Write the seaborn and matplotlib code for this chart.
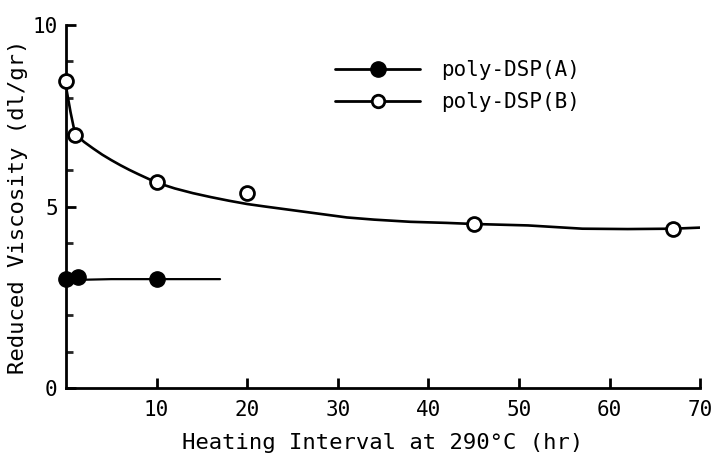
import numpy as np
import pandas as pd
import matplotlib
matplotlib.use("Agg")
import matplotlib.pyplot as plt
from matplotlib.lines import Line2D
from matplotlib.ticker import MultipleLocator
import seaborn as sns

# punkty pomiarowe
hours_a = [0, 1.3, 10]
visc_a = [3.0, 3.05, 3.0]
hours_b = [0, 1, 10, 20, 45, 67]
visc_b = [8.45, 6.98, 5.68, 5.37, 4.52, 4.38]

# linie prowadzone recznie
curve_a_x = [0, 1.3, 5, 10, 17]
curve_a_y = [3.0, 2.98, 3.0, 3.0, 3.0]
curve_b_x = [0, 0.5, 1, 2, 3, 4, 5, 6, 7, 8, 10, 12, 14, 16, 18, 20, 22, 25,
             28, 31, 34, 38, 42, 45, 51, 57, 62, 67, 70]
curve_b_y = [8.3, 7.6, 7.0, 6.78, 6.6, 6.43, 6.28, 6.14, 6.01, 5.89, 5.66, 5.5,
             5.37, 5.26, 5.16, 5.07, 5.0, 4.9, 4.8, 4.7, 4.64, 4.58, 4.55, 4.52,
             4.48, 4.39, 4.38, 4.39, 4.42]

sns.set_style("ticks")
plt.rcParams['font.family'] = ['DejaVu Sans Mono']
plt.rcParams['text.color'] = 'black'
plt.rcParams['axes.labelcolor'] = 'black'

fig = plt.figure(figsize=(7.13, 4.57), dpi=100)
ax = fig.add_axes([0.0926, 0.151, 0.8894, 0.794])

df_a = pd.DataFrame({'x': curve_a_x, 'y': curve_a_y})
df_b = pd.DataFrame({'x': curve_b_x, 'y': curve_b_y})
sns.lineplot(data=df_a, x='x', y='y', color='black', linewidth=1.6, ax=ax)
sns.lineplot(data=df_b, x='x', y='y', color='black', linewidth=1.9, ax=ax)

ax.plot(hours_a, visc_a, 'o', color='black', markersize=11, clip_on=False, zorder=5)
ax.plot(hours_b, visc_b, 'o', markerfacecolor='white', markeredgecolor='black',
        markeredgewidth=2, markersize=10, clip_on=False, zorder=5)

ax.set_xlim(0, 70)
ax.set_ylim(0, 10)
ax.set_xticks([10, 20, 30, 40, 50, 60, 70])
ax.set_yticks([0, 5, 10])
ax.yaxis.set_minor_locator(MultipleLocator(1))
ax.tick_params(direction='in', length=7, width=2, labelsize=15, colors='black')
ax.tick_params(which='minor', direction='in', length=5, width=2)
ax.tick_params(axis='x', pad=9)
ax.tick_params(axis='y', pad=6)
sns.despine(ax=ax)
for s in ['left', 'bottom']:
    ax.spines[s].set_linewidth(2)
    ax.spines[s].set_color('black')

ax.set_xlabel('Heating Interval at 290°C (hr)', fontsize=16, labelpad=9)
ax.set_ylabel('Reduced Viscosity (dl/gr)', fontsize=16, labelpad=3)

handles = [
    Line2D([], [], color='black', linewidth=2, marker='o', markersize=11),
    Line2D([], [], color='black', linewidth=2, marker='o', markersize=9,
           markerfacecolor='white', markeredgewidth=2),
]
fig.legend(handles, ['poly-DSP(A)', 'poly-DSP(B)'], loc='upper left',
           bbox_to_anchor=(335 / 713, 1 - 60 / 457), frameon=False,
           fontsize=15, handlelength=4.1, handletextpad=1.0,
           borderpad=0, borderaxespad=0, labelspacing=0.6)

fig.savefig('out.png', dpi=100)
